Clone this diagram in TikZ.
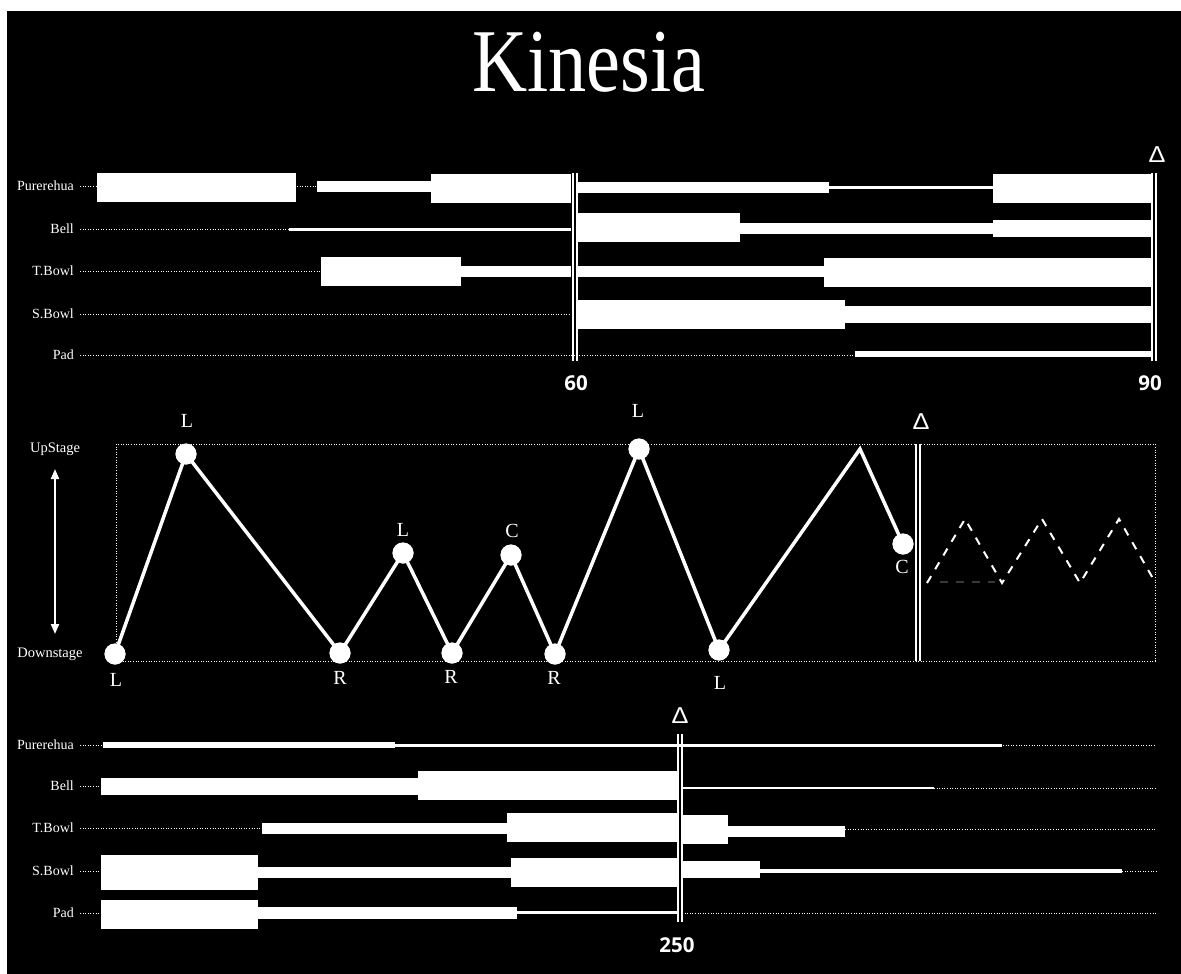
\documentclass[tikz,border=0pt]{standalone}
\usepackage{fontspec}
\setmainfont{Liberation Serif}
\newfontfamily\numfont{Open Sans}
\newfontfamily\deltafont{Liberation Sans}
\usetikzlibrary{arrows.meta}
\begin{document}
\begin{tikzpicture}[x=1pt,y=-1pt,
  rowlabel/.style={anchor=east,text=white,inner sep=0pt,font=\fontsize{14}{16}\selectfont},
  stagelabel/.style={text=white,inner sep=0pt,font=\fontsize{14.5}{16}\selectfont},
  poslabel/.style={text=white,inner sep=0pt,font=\fontsize{20}{22}\selectfont},
  numlabel/.style={text=white,inner sep=0pt,font=\numfont\bfseries\fontsize{20.5}{22}\selectfont},
  deltalabel/.style={text=white,inner sep=0pt,xscale=1.1,font=\deltafont\fontsize{23}{26}\selectfont},
  dotline/.style={draw=white,line width=1pt,dash pattern=on 1pt off 1.6pt},
  bar/.style={fill=white},
  dbl/.style={draw=white,line width=2pt},
  dot/.style={circle,fill=white,minimum size=21pt,inner sep=0pt},
  path/.style={draw=white,line width=3.5pt},
  dzig/.style={draw=white,line width=2pt,dash pattern=on 8pt off 8pt},
]
\useasboundingbox (0,0) rectangle (1181,974);
\fill[white] (0,0) rectangle (1181,974);
\fill[black] (7,11) rectangle (1181,974);

% Title
\node[anchor=base,text=white,inner sep=0pt,xscale=0.92,yscale=1.08,font=\fontsize{83}{90}\selectfont] (title) at (589,92) {Kinesia};

% ---------- Top section ----------
\node[rowlabel] (tp) at (74,186) {Purerehua};
\node[rowlabel] (tb) at (74,229) {Bell};
\node[rowlabel] (tt) at (74,271) {T.Bowl};
\node[rowlabel] (ts) at (74,314) {S.Bowl};
\node[rowlabel] (tpd) at (74,355) {Pad};

% Purerehua
\draw[dotline] (80,186) -- (97,186);
\fill[bar] (97,173) rectangle (296,202);
\draw[dotline] (297,186) -- (317,186);
\fill[bar] (317,181) rectangle (431,192);
\fill[bar] (431,174) rectangle (571,203);
\fill[bar] (577,182) rectangle (829,193);
\fill[bar] (829,186) rectangle (993,189);
\fill[bar] (993,174) rectangle (1151,203);
% Bell
\draw[dotline] (80,229) -- (289,229);
\fill[bar] (289,228) rectangle (571,231);
\fill[bar] (577,213) rectangle (740,242);
\fill[bar] (740,223) rectangle (993,234);
\fill[bar] (993,220) rectangle (1151,237);
% T.Bowl
\draw[dotline] (80,271) -- (321,271);
\fill[bar] (321,257) rectangle (461,286);
\fill[bar] (461,266) rectangle (571,277);
\fill[bar] (577,266) rectangle (824,277);
\fill[bar] (824,258) rectangle (1151,287);
% S.Bowl
\draw[dotline] (80,314) -- (571,314);
\fill[bar] (577,300) rectangle (845,329);
\fill[bar] (845,306) rectangle (1151,323);
% Pad
\draw[dotline] (80,355) -- (855,355);
\fill[bar] (855,351) rectangle (1151,357);

% double bars
\draw[dbl] (572.5,173) -- (572.5,361);
\draw[dbl] (576.5,173) -- (576.5,361);
\draw[dbl] (1152,173) -- (1152,361);
\draw[dbl] (1156,173) -- (1156,361);
\node[numlabel] (n60) at (576,383) {60};
\node[numlabel] (n90) at (1150,383) {90};
\node[deltalabel] (d1) at (1157,155) {Δ};

% ---------- Middle section ----------
\draw[dotline] (116,444) rectangle (1155,661);
\node[stagelabel] (up) at (55,449) {UpStage};
\node[stagelabel] (down) at (50,654) {Downstage};
\coordinate (arrtop) at (55,469);
\coordinate (arrbot) at (55,634);
\draw[white,line width=2pt,{Triangle[width=8pt,length=10pt]}-{Triangle[width=8pt,length=10pt]}] (arrtop) -- (arrbot);

\node[dot] (p1) at (115,654) {};
\node[dot] (p2) at (186,454) {};
\node[dot] (p3) at (340,653) {};
\node[dot] (p4) at (403,553) {};
\node[dot] (p5) at (452,653) {};
\node[dot] (p6) at (511,555) {};
\node[dot] (p7) at (555,654) {};
\node[dot] (p8) at (639,449) {};
\node[dot] (p9) at (719,650) {};
\coordinate (apex) at (860,449);
\node[dot] (p10) at (903,544) {};

\draw[path,line join=miter] (p1.center) -- (p2.center) -- (p3.center) -- (p4.center) -- (p5.center) -- (p6.center) -- (p7.center) -- (p8.center) -- (p9.center) -- (apex) -- (p10.center);
\foreach \p in {p1,p2,p3,p4,p5,p6,p7,p8,p9,p10} \node[dot] at (\p) {};

\node[poslabel] (l1) at (116,680) {L};
\node[poslabel] (l2) at (187,421) {L};
\node[poslabel] (l3) at (340,678) {R};
\node[poslabel] (l4) at (403,530) {L};
\node[poslabel] (l5) at (451,677) {R};
\node[poslabel] (l6) at (512,531) {C};
\node[poslabel] (l7) at (554,678) {R};
\node[poslabel] (l8) at (638,411) {L};
\node[poslabel] (l9) at (720,683) {L};
\node[poslabel] (l10) at (902,567) {C};

\draw[dbl] (916,444) -- (916,661);
\draw[dbl] (920,444) -- (920,661);
\node[deltalabel] (d2) at (921,422) {Δ};

% dashed zigzag
\coordinate (z0) at (927,583);
\coordinate (z1) at (965,519);
\coordinate (z2) at (1002,583);
\coordinate (z3) at (1042,519);
\coordinate (z4) at (1080,583);
\coordinate (z5) at (1119,519);
\coordinate (z6) at (1155,582);
\draw[dzig] (z0) -- (z1) -- (z2) -- (z3) -- (z4) -- (z5) -- (z6);
\coordinate (g0) at (940,582);
\coordinate (g1) at (995,582);
\draw[gray!45!black,line width=1.5pt,dash pattern=on 8pt off 8pt] (g0) -- (g1);

% ---------- Bottom section ----------
\node[rowlabel] (bp) at (74,745) {Purerehua};
\node[rowlabel] (bb) at (74,786) {Bell};
\node[rowlabel] (bt) at (74,828) {T.Bowl};
\node[rowlabel] (bs) at (74,871) {S.Bowl};
\node[rowlabel] (bpd) at (74,913) {Pad};

% Purerehua
\draw[dotline] (80,745) -- (103,745);
\fill[bar] (103,742) rectangle (395,748);
\fill[bar] (395,744) rectangle (1002,747);
\draw[dotline] (1003,745.5) -- (1156,745.5);
% Bell
\draw[dotline] (80,786) -- (101,786);
\fill[bar] (101,778) rectangle (418,795);
\fill[bar] (418,771) rectangle (678,800);
\fill[bar] (683,787) rectangle (934,789);
\draw[dotline] (934,788) -- (1156,788);
% T.Bowl
\draw[dotline] (80,828) -- (262,828);
\fill[bar] (262,823) rectangle (507,834);
\fill[bar] (507,813) rectangle (678,842);
\fill[bar] (681,815) rectangle (728,844);
\fill[bar] (728,826) rectangle (845,837);
\draw[dotline] (845,829) -- (1156,829);
% S.Bowl
\draw[dotline] (80,871) -- (101,871);
\fill[bar] (101,855) rectangle (258,890);
\fill[bar] (258,867) rectangle (511,878);
\fill[bar] (511,858) rectangle (678,887);
\fill[bar] (681,861) rectangle (760,878);
\fill[bar] (760,869) rectangle (1122,873);
\draw[dotline] (1122,871.5) -- (1156,871.5);
% Pad
\draw[dotline] (80,913) -- (101,913);
\fill[bar] (101,900) rectangle (258,929);
\fill[bar] (258,907) rectangle (517,919);
\fill[bar] (517,911) rectangle (678,913.5);
\draw[dotline] (682,913) -- (1156,913);

\draw[dbl] (677.5,734) -- (677.5,922);
\draw[dbl] (681.5,734) -- (681.5,922);
\node[deltalabel] (d3) at (680,716) {Δ};
\node[numlabel] (n250) at (677,945) {250};
\end{tikzpicture}
\end{document}
